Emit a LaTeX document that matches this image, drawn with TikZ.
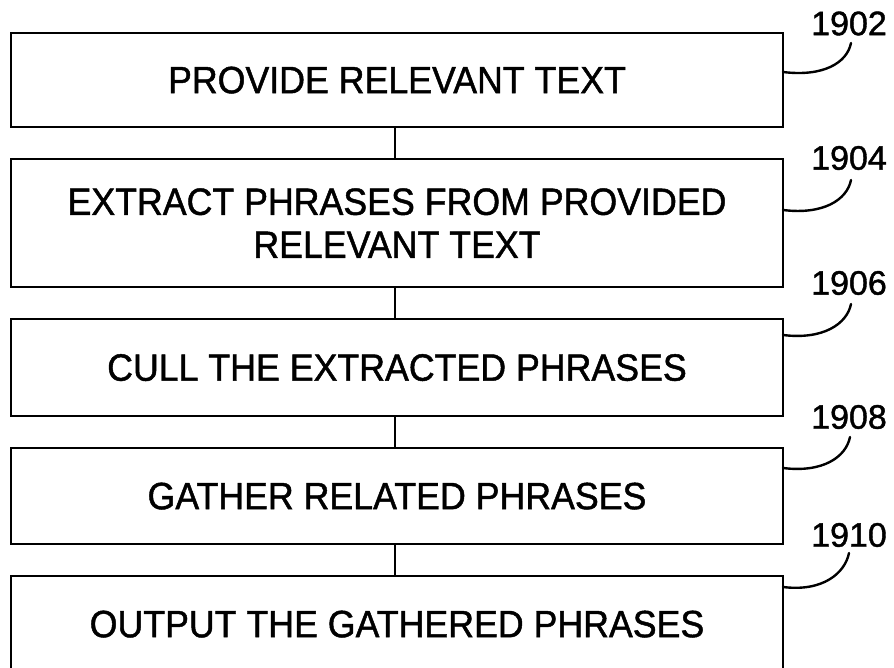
\documentclass[tikz,border=0pt]{standalone}
\usepackage{fontspec}
\setmainfont{Liberation Sans}
\newfontfamily\boxfont[FakeBold=1.2,FakeStretch=0.94]{Liberation Sans}
\newfontfamily\labfont[FakeBold=1.2]{Liberation Sans}
\usetikzlibrary{calc}
\begin{document}
\begin{tikzpicture}[x=1pt,y=-1pt,
  box/.style={draw=black, line width=2.2pt, minimum width=772pt, anchor=north,
    inner sep=0pt, align=center, font=\boxfont\fontsize{38}{43}\selectfont},
  link/.style={draw=black, line width=1.6pt},
  leader/.style={draw=black, line width=2.4pt, line cap=round},
  reflabel/.style={font=\labfont\fontsize{34}{38}\selectfont, inner sep=0pt}]
\useasboundingbox (0,0) rectangle (894,668);
\clip (0,0) rectangle (894,668);
\node[box, minimum height=94pt] (b1) at (397,32) {PROVIDE RELEVANT TEXT};
\node[box, minimum height=128pt] (b2) at (397,158) {EXTRACT PHRASES FROM PROVIDED\\RELEVANT TEXT};
\node[box, minimum height=97pt] (b3) at (397,318) {CULL THE EXTRACTED PHRASES};
\node[box, minimum height=96pt] (b4) at (397,447) {GATHER RELATED PHRASES};
\node[box, minimum height=96pt] (b5) at (397,575) {OUTPUT THE GATHERED PHRASES};
\draw[link] (b1.south -| 395,0) -- (b2.north -| 395,0);
\draw[link] (b2.south -| 395,0) -- (b3.north -| 395,0);
\draw[link] (b3.south -| 395,0) -- (b4.north -| 395,0);
\draw[link] (b4.south -| 395,0) -- (b5.north -| 395,0);
\node[reflabel] (l1) at (849,23.5) {1902};
\node[reflabel] (l2) at (849,158) {1904};
\node[reflabel] (l3) at (849,283) {1906};
\node[reflabel] (l4) at (849,417) {1908};
\node[reflabel] (l5) at (849,535) {1910};
\coordinate (s1) at (783,72);  \coordinate (e1) at (851,43);
\coordinate (s2) at (783,210); \coordinate (e2) at (851,180);
\coordinate (s3) at (783,335); \coordinate (e3) at (851,304);
\coordinate (s4) at (783,468); \coordinate (e4) at (850,437);
\coordinate (s5) at (783,587); \coordinate (e5) at (849,553);
\foreach \i in {1,...,5}{
  \draw[leader] (s\i) .. controls ($(s\i)+(40,5)$) and ($(e\i)+(-4,20)$) .. (e\i);
}
\end{tikzpicture}
\end{document}
